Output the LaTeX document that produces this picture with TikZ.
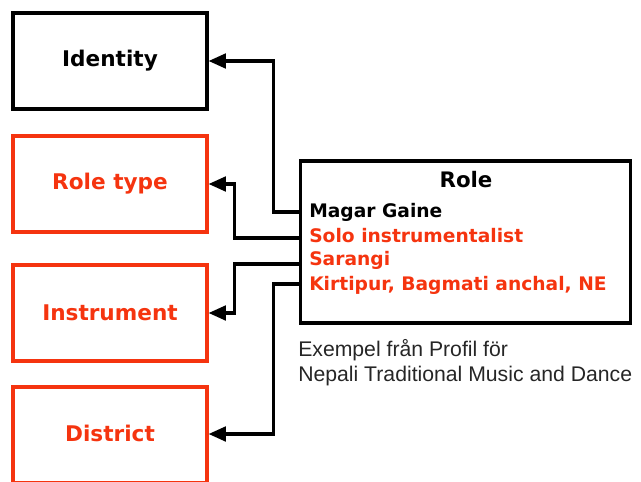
\documentclass[tikz,border=0pt]{standalone}
\usepackage{fontspec}
\setmainfont{DejaVu Sans}
\newfontfamily\capfont{Liberation Sans}
\usetikzlibrary{arrows.meta}
\definecolor{rd}{RGB}{245,52,15}
\begin{document}
\begin{tikzpicture}[x=0.75pt,y=-0.75pt,
  box/.style={draw=black,line width=2.4pt,minimum width=145.5pt,minimum height=72pt,inner sep=0pt,font=\bfseries\fontsize{16.2}{19}\selectfont},
  rbox/.style={box,draw=rd,text=rd},
  row/.style={anchor=west,inner sep=0pt,font=\bfseries\fontsize{14}{16}\selectfont},
  arr/.style={line width=2.3pt,-{Triangle[length=13pt,width=11pt]}}]
\useasboundingbox (0,0) rectangle (641,481);
\begin{scope}
\clip (0,0) rectangle (641,481);
\node[box]  (identity) at (110,61)  {Identity};
\node[rbox] (roletype) at (110,184) {Role type};
\node[rbox] (instr)    at (110,313) {Instrument};
\node[rbox] (district) at (110,435) {\raisebox{2.5pt}{District}};
\end{scope}
\node[draw,line width=2.4pt,minimum width=248pt,minimum height=121.5pt,inner sep=0pt] (role) at (465.5,242) {};
\node[inner sep=0pt,font=\bfseries\fontsize{16}{19}\selectfont] (roletitle) at (466,180) {Role};
\node[row] (magar) at (309,212) {Magar Gaine};
\node[row,text=rd] (solo) at (309,236) {Solo instrumentalist};
\node[row,text=rd] (sarangi) at (309,260) {Sarangi};
\node[row,text=rd] (kirt) at (309,285) {Kirtipur, Bagmati anchal, NE};
\coordinate (p1) at (role.west |- 0,212);
\coordinate (p2) at (role.west |- 0,238);
\coordinate (p3) at (role.west |- 0,264);
\coordinate (p4) at (role.west |- 0,284);
\draw[arr] (p1) -- ++(-25,0) |- (identity.east);
\draw[arr] (p2) -- ++(-64,0) |- (roletype.east);
\draw[arr] (p3) -- ++(-64,0) |- (instr.east);
\draw[arr] (p4) -- ++(-25,0) |- ([yshift=0.75pt]district.east);
\node[anchor=north west,align=left,inner sep=0pt,font=\capfont\fontsize{15.9}{19}\selectfont,text=black!85] (cap) at (298,339) {Exempel från Profil för\\Nepali Traditional Music and Dance};
\end{tikzpicture}
\end{document}
